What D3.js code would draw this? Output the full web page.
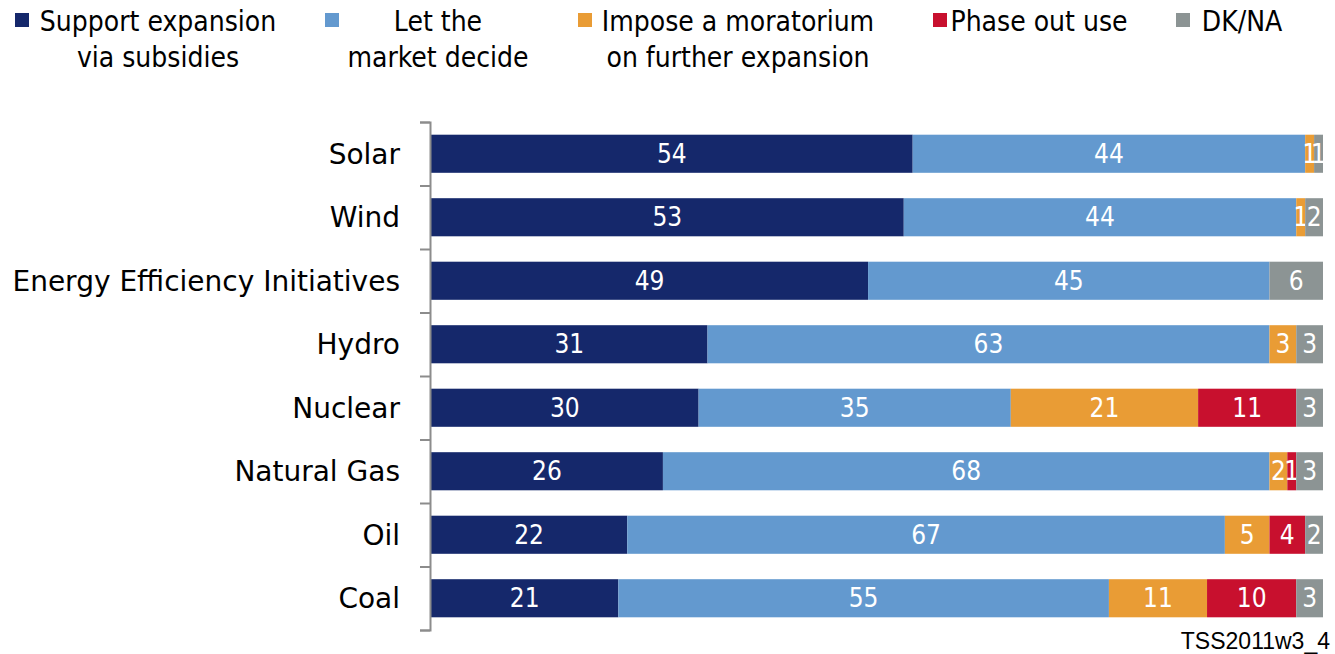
<!DOCTYPE html>
<meta charset="utf-8">
<script src="https://cdn.jsdelivr.net/npm/d3@7"></script>
<style>
  body { margin: 0; background: #fff; }
  text { font-family: "DejaVu Sans Condensed", "DejaVu Sans", sans-serif; }
  .axis path, .axis line { stroke: #8c8c8c; stroke-width: 2px; }
</style>
<body>
<script>
  // categories, top to bottom
  var categories = ["Solar", "Wind", "Energy Efficiency Initiatives", "Hydro",
    "Nuclear", "Natural Gas", "Oil", "Coal"];

  // series (percent)
  var support   = [54, 53, 49, 31, 30, 26, 22, 21];
  var market    = [44, 44, 45, 63, 35, 68, 67, 55];
  var moratorium = [1, 1, 0, 3, 21, 2, 5, 11];
  var phaseOut  = [0, 0, 0, 0, 11, 1, 4, 10];
  var dkna      = [1, 2, 6, 3, 3, 3, 2, 3];

  var seriesNames = [["Support expansion", "via subsidies"], ["Let the", "market decide"],
    ["Impose a moratorium", "on further expansion"], ["Phase out use"], ["DK/NA"]];
  var seriesValues = [support, market, moratorium, phaseOut, dkna];
  var colors = ["#15286b", "#6399cf", "#e99c35", "#c8102e", "#8c9494"];

  var width = 1335, height = 654;
  var x0 = 431, x1 = 1323, yTop = 122, yBot = 630;

  var svg = d3.select("body").append("svg")
    .attr("width", width)
    .attr("height", height);

  var x = d3.scaleLinear().domain([0, 100]).range([x0, x1]);
  var y = d3.scaleBand().domain(categories).range([yTop, yBot]).paddingInner(0.4).paddingOuter(0.2);

  // stack rows
  var rows = categories.map(function (c, i) {
    var acc = 0;
    return seriesValues.map(function (s, k) {
      var seg = { cat: c, k: k, v: s[i], start: acc };
      acc += s[i];
      return seg;
    });
  });

  var segs = svg.append("g").selectAll("g")
    .data(d3.merge(rows).filter(function (d) { return d.v > 0; }))
    .enter().append("g");

  segs.append("rect")
    .attr("x", function (d) { return x(d.start); })
    .attr("y", function (d) { return y(d.cat); })
    .attr("width", function (d) { return x(d.start + d.v) - x(d.start); })
    .attr("height", y.bandwidth())
    .style("fill", function (d) { return colors[d.k]; });

  segs.append("text")
    .attr("x", function (d) { return (x(d.start) + x(d.start + d.v)) / 2; })
    .attr("y", function (d) { return y(d.cat) + y.bandwidth() / 2 + 9; })
    .attr("text-anchor", "middle")
    .style("fill", "#fff")
    .style("font-size", "26px")
    .text(function (d) { return d.v; });

  // axis with ticks at band boundaries
  var yLine = d3.scaleLinear().domain([0, categories.length]).range([yTop, yBot]);
  svg.append("g")
    .attr("class", "axis")
    .attr("transform", "translate(" + (x0 - 1) + ",0)")
    .call(d3.axisLeft(yLine).ticks(categories.length).tickSize(10).tickSizeOuter(10).tickFormat(""));

  // category labels
  svg.append("g").selectAll("text")
    .data(categories)
    .enter().append("text")
    .attr("x", 400)
    .attr("y", function (d) { return y(d) + y.bandwidth() / 2 + 10; })
    .attr("text-anchor", "end")
    .style("font-family", "DejaVu Sans, sans-serif")
    .style("font-size", "28px")
    .style("fill", "#000")
    .text(function (d) { return d; });

  // legend
  var legendX = [15, 325, 578, 933, 1176];
  var legendTextCenter = [158, 438, 738, 1039, 1242];
  var legend = svg.append("g").selectAll("g")
    .data(seriesNames)
    .enter().append("g");

  legend.append("rect")
    .attr("x", function (d, i) { return legendX[i]; })
    .attr("y", 13)
    .attr("width", 14)
    .attr("height", 14)
    .style("fill", function (d, i) { return colors[i]; });

  legend.each(function (d, i) {
    d3.select(this).selectAll("text")
      .data(d)
      .enter().append("text")
      .attr("x", legendTextCenter[i])
      .attr("y", function (t, j) { return 31 + j * 36; })
      .attr("text-anchor", "middle")
      .style("font-size", "28px")
      .style("fill", "#000")
      .text(function (t) { return t; });
  });

  // source note
  svg.append("text")
    .attr("x", 1330)
    .attr("y", 649)
    .attr("text-anchor", "end")
    .style("font-family", "Liberation Sans, Arial, sans-serif")
    .style("font-size", "23px")
    .text("TSS2011w3_4");
</script>
</body>
